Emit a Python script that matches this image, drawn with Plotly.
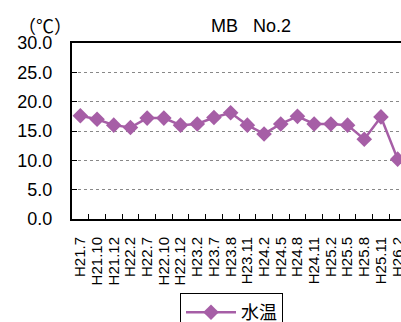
import plotly.graph_objects as go

categories = ["H21.7", "H21.10", "H21.12", "H22.2", "H22.7", "H22.10", "H22.12",
              "H23.2", "H23.7", "H23.8", "H23.11", "H24.2", "H24.5", "H24.8",
              "H24.11", "H25.2", "H25.5", "H25.8", "H25.11", "H26.2"]
water_temp = [17.6, 17.0, 16.0, 15.6, 17.2, 17.2, 16.0,
              16.2, 17.3, 18.1, 16.0, 14.5, 16.2, 17.5,
              16.2, 16.2, 16.0, 13.6, 17.4, 10.2]
y_ticks = [0, 5, 10, 15, 20, 25, 30]

FONT = "Liberation Sans, Arial, Noto Sans CJK JP, sans-serif"
COLOR = "#A65EA6"

L, R, T, B = 72, 0, 43, 103
W, H = 401, 322
plot_w = W - L - R
plot_h = H - T - B


def px_to_paper(px, py):
    return (px - L) / plot_w, (H - py - B) / plot_h


fig = go.Figure()
fig.add_trace(go.Scatter(
    x=categories, y=water_temp, mode="lines+markers", name="水温",
    line=dict(color=COLOR, width=2.5),
    marker=dict(symbol="diamond", size=12, color=COLOR),
    cliponaxis=False,
))

tx, ty = px_to_paper(251, 25.5)
ux, uy = px_to_paper(45, 25)
lx, ly = px_to_paper(180, 293)

fig.update_layout(
    width=W, height=H,
    margin=dict(l=L, r=R, t=T, b=B, autoexpand=False),
    paper_bgcolor="white", plot_bgcolor="white",
    font=dict(family=FONT, color="black"),
    showlegend=True,
    legend=dict(
        x=lx, y=ly, xanchor="left", yanchor="top",
        bordercolor="black", borderwidth=1,
        font=dict(size=18, family="Noto Sans CJK JP, sans-serif"),
        bgcolor="white", itemwidth=50,
    ),
    annotations=[
        dict(text="MB\u00a0\u00a0\u00a0No.2", x=tx, y=ty, xref="paper", yref="paper",
             xanchor="center", yanchor="middle",
             showarrow=False, font=dict(size=18, family=FONT)),
        dict(text="（℃）", x=ux, y=uy, xref="paper", yref="paper",
             xanchor="center", yanchor="middle",
             showarrow=False, font=dict(size=18, family="Noto Sans CJK JP, sans-serif")),
    ],
)

fig.update_xaxes(
    type="category", range=[-0.5, 19.2], automargin=False,
    tickmode="linear", tick0=0, dtick=1,
    showline=True, linecolor="black", linewidth=2, mirror=True,
    ticks="inside", ticklen=5, tickcolor="black", tickwidth=1,
    tickson="boundaries", ticklabelstandoff=10,
    tickangle=-90, tickfont=dict(size=15, family=FONT),
    showgrid=False,
)
fig.update_yaxes(
    range=[0, 30], tickvals=y_ticks, tickformat=".1f", automargin=False,
    showline=True, linecolor="black", linewidth=2,
    ticks="inside", ticklen=5, tickcolor="black",
    ticklabelstandoff=14,
    tickfont=dict(size=18, family=FONT),
    showgrid=True, gridcolor="#888888", gridwidth=1, griddash="3px,3px",
    zeroline=False,
)

fig.write_html("out.html")
